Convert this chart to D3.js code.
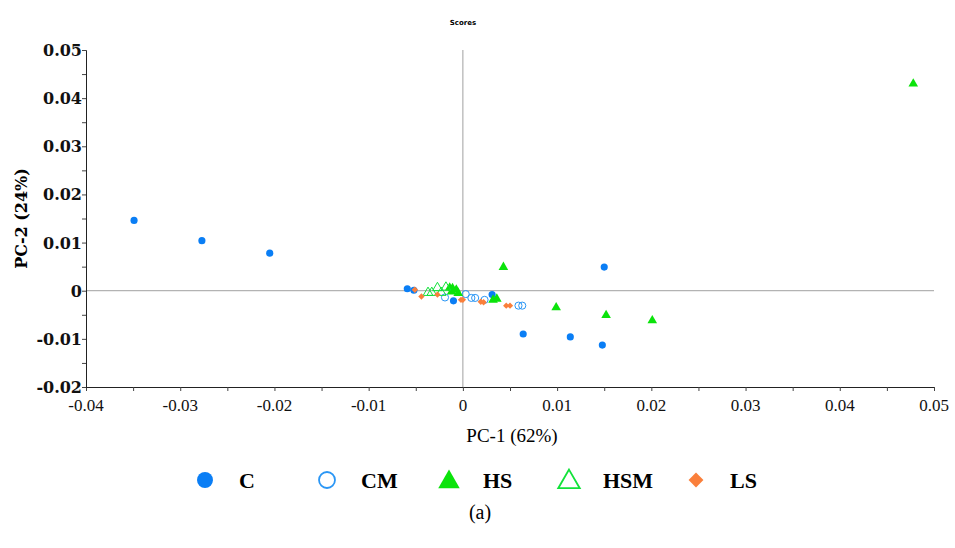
<!DOCTYPE html>
<html>
<head>
<meta charset="utf-8">
<script src="https://cdn.jsdelivr.net/npm/d3@7"></script>
<style>
  body { margin: 0; background: #fff; }
  svg { display: block; }
</style>
</head>
<body>
<div id="chart"></div>
<script>
// PCA scores, one array of [PC-1, PC-2] per group
const groups = ["C", "CM", "HS", "HSM", "LS"];

const scoresC = [
  [-0.0349, 0.0146], [-0.0277, 0.0104], [-0.0205, 0.0078],
  [0.0150, 0.0049], [0.0064, -0.0090], [0.0114, -0.0096], [0.0148, -0.0113],
  [-0.0059, 0.0004], [-0.0052, 0.0001], [-0.0010, -0.0021], [0.0031, -0.0008]
];
const scoresCM = [
  [-0.0019, -0.0014], [0.0003, -0.0007], [0.0009, -0.0015], [0.0013, -0.0015],
  [0.0023, -0.0019], [0.0059, -0.0031], [0.0063, -0.0031]
];
const scoresHS = [
  [0.0478, 0.0430], [0.0043, 0.0049], [0.0099, -0.0035], [0.0152, -0.0051],
  [0.0201, -0.0062], [0.0032, -0.0019], [0.0036, -0.0017],
  [-0.0014, 0.0006], [-0.0011, 0.0005], [-0.0007, 0.0002], [-0.0012, -0.0002], [-0.0005, -0.0005]
];
const scoresHSM = [
  [-0.0037, -0.0004], [-0.0033, -0.0004], [-0.0027, 0.0006], [-0.0023, -0.0004], [-0.0018, 0.0007]
];
const scoresLS = [
  [-0.0051, 0.0002], [-0.0044, -0.0012], [-0.0027, -0.0008], [-0.0002, -0.0019],
  [0.0000, -0.0019], [0.0019, -0.0023], [0.0022, -0.0024], [0.0046, -0.0031], [0.0050, -0.0031]
];

const xTicks = [-0.04, -0.03, -0.02, -0.01, 0, 0.01, 0.02, 0.03, 0.04, 0.05];
const yTicks = [-0.02, -0.01, 0, 0.01, 0.02, 0.03, 0.04, 0.05];

const W = 955, H = 548;
const margin = { left: 86, right: 21, top: 50, bottom: 161 };
const serif = "'Liberation Serif', 'DejaVu Serif', serif";
const wideSerif = "'DejaVu Serif', serif";

const svg = d3.select("#chart").append("svg")
  .attr("width", W).attr("height", H);

const x = d3.scaleLinear().domain([-0.04, 0.05]).range([margin.left, W - margin.right]);
const y = d3.scaleLinear().domain([-0.02, 0.05]).range([H - margin.bottom, margin.top]);

// style per group
const style = {
  C:   { shape: "circle",   fill: "#0a7ef5", stroke: "none" },
  CM:  { shape: "circle",   fill: "none",    stroke: "#2a96f5" },
  HS:  { shape: "triangle", fill: "#0be30b", stroke: "none" },
  HSM: { shape: "triangle", fill: "none",    stroke: "#12e23a" },
  LS:  { shape: "diamond",  fill: "#fa7f3b", stroke: "none" }
};

function symbolPath(shape, scale) {
  if (shape === "circle") return d3.symbol().type(d3.symbolCircle).size(40 * scale)();
  if (shape === "triangle") return d3.symbol().type(d3.symbolTriangle).size(40 * scale)();
  return d3.symbol().type(d3.symbolSquare).size(20 * scale)();
}

const fmt = d => String(+d.toFixed(2));

// title
svg.append("text")
  .attr("x", x(0)).attr("y", 25)
  .attr("text-anchor", "middle")
  .style("font-family", "'DejaVu Sans', sans-serif")
  .style("font-size", "7px").style("font-weight", "bold")
  .text("Scores");

// zero lines
svg.append("line")
  .attr("x1", x(0)).attr("x2", x(0))
  .attr("y1", y(0.05)).attr("y2", y(-0.02))
  .attr("stroke", "#a0a0a0").attr("stroke-width", 1);
svg.append("line")
  .attr("x1", x(-0.04)).attr("x2", x(0.05))
  .attr("y1", y(0)).attr("y2", y(0))
  .attr("stroke", "#a0a0a0").attr("stroke-width", 1);

// axes with minor ticks
const xMinor = d3.range(-0.04, 0.0501, 0.005);
const yMinor = d3.range(-0.02, 0.0501, 0.005);

const xAxisG = svg.append("g")
  .attr("transform", `translate(0,${y(-0.02)})`)
  .call(d3.axisBottom(x).tickValues(xMinor).tickSize(4).tickFormat(""));
xAxisG.select(".domain").attr("stroke", "#222");
xAxisG.selectAll(".tick line").attr("stroke", "#444");

svg.append("g").selectAll("text").data(xTicks).join("text")
  .attr("x", d => x(d)).attr("y", y(-0.02) + 24)
  .attr("text-anchor", "middle")
  .style("font-family", serif).style("font-size", "17px")
  .attr("fill", "#111")
  .text(fmt);

const yAxisG = svg.append("g")
  .attr("transform", `translate(${x(-0.04)},0)`)
  .call(d3.axisLeft(y).tickValues(yMinor).tickSize(4).tickFormat(""));
yAxisG.select(".domain").attr("stroke", "#222");
yAxisG.selectAll(".tick line").attr("stroke", "#444");

svg.append("g").selectAll("text").data(yTicks).join("text")
  .attr("x", x(-0.04) - 4).attr("y", d => y(d) + 6)
  .attr("text-anchor", "end")
  .style("font-family", wideSerif).style("font-size", "16px").style("font-weight", "bold")
  .attr("fill", "#111")
  .text(fmt);

// axis titles
svg.append("text")
  .attr("x", 512).attr("y", y(-0.02) + 55)
  .attr("text-anchor", "middle")
  .style("font-family", serif).style("font-size", "19px")
  .text("PC-1 (62%)");
svg.append("text")
  .attr("transform", `translate(27,${(y(0.05) + y(-0.02)) / 2}) rotate(-90)`)
  .attr("text-anchor", "middle")
  .style("font-family", wideSerif).style("font-size", "16px").style("font-weight", "bold")
  .text("PC-2 (24%)");

// points
const data = { C: scoresC, CM: scoresCM, HS: scoresHS, HSM: scoresHSM, LS: scoresLS };
groups.forEach(g => {
  const s = style[g];
  svg.append("g").selectAll("path").data(data[g]).join("path")
    .attr("d", symbolPath(s.shape, 1))
    .attr("transform", d => `translate(${x(d[0])},${y(d[1])})${s.shape === "diamond" ? " rotate(45)" : ""}`)
    .attr("fill", s.fill)
    .attr("stroke", s.stroke)
    .attr("stroke-width", 1);
});

// legend
const legendX = [205, 327, 449, 569, 696];
const legend = svg.append("g");
groups.forEach((g, i) => {
  const s = style[g];
  legend.append("path")
    .attr("d", symbolPath(s.shape, g === "LS" ? 5.5 : 5))
    .attr("transform", `translate(${legendX[i]},${s.shape === "triangle" ? 482 : 480})${s.shape === "diamond" ? " rotate(45)" : ""}`)
    .attr("fill", s.fill)
    .attr("stroke", s.stroke)
    .attr("stroke-width", 1.8);
  legend.append("text")
    .attr("x", legendX[i] + 34).attr("y", 488)
    .style("font-family", serif).style("font-size", "22px").style("font-weight", "bold")
    .text(g);
});

svg.append("text")
  .attr("x", 480).attr("y", 519)
  .attr("text-anchor", "middle")
  .style("font-family", serif).style("font-size", "20px")
  .text("(a)");
</script>
</body>
</html>
